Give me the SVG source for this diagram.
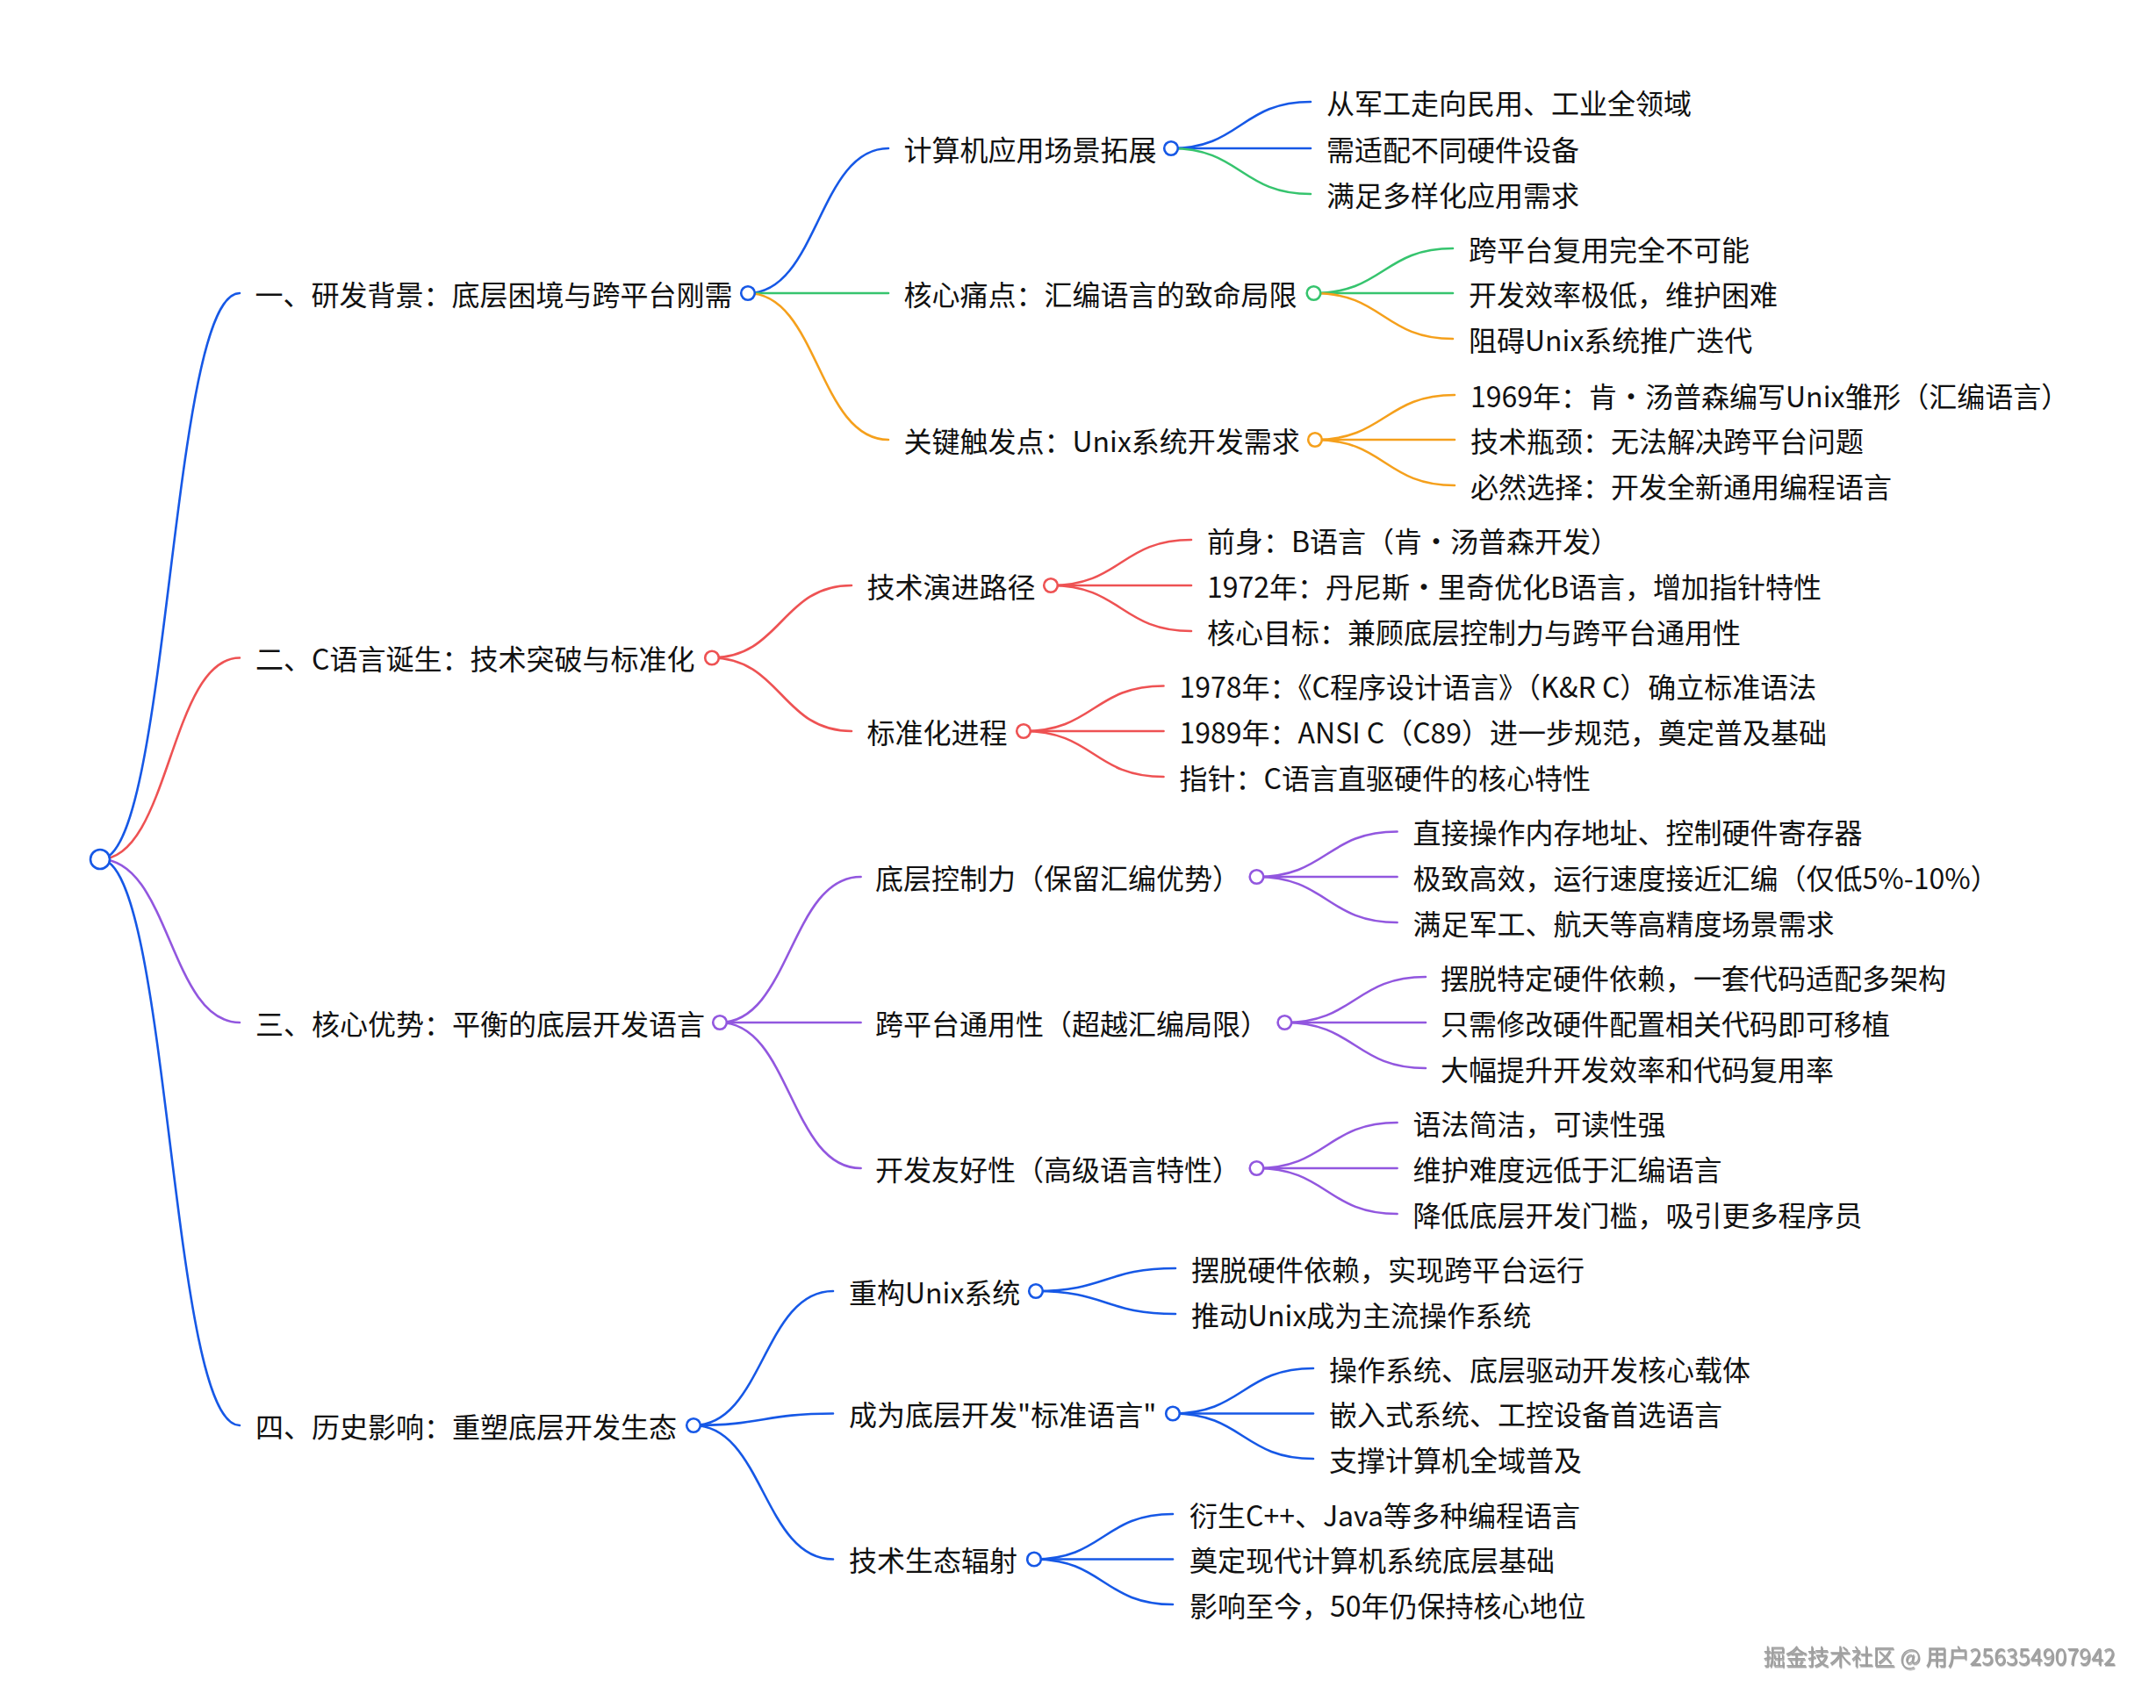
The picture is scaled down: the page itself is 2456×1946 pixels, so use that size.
<svg xmlns="http://www.w3.org/2000/svg" width="2456" height="1946" viewBox="0 0 2456 1946">
<defs>
<filter id="emb" x="-5%" y="-30%" width="110%" height="160%">
<feDropShadow dx="1" dy="1.5" stdDeviation="0.6" flood-color="#555" flood-opacity="0.6"/>
</filter>
</defs>
<style>
text{font-family:"Noto Sans CJK SC","Noto Sans",sans-serif;font-size:32px;fill:#111;dominant-baseline:central;transform:translateY(-1.5px)}
.l{fill:none;stroke-width:2.6;stroke-linecap:round}
.n{fill:#fff;stroke-width:2.6}
.b{stroke:#1658E6}
.g{stroke:#36C46E}
.o{stroke:#F5A01C}
.r{stroke:#EE5253}
.p{stroke:#9257DF}
.wm{font-size:25px;fill:#a0a0a0;dominant-baseline:central}
</style>
<rect width="2456" height="1946" fill="#fff"/>
<g id="connectors">
<path class="l b" d="M114 979C193.5 979 193.5 334 273 334"/>
<path class="l r" d="M114 979C193.5 979 193.5 749.5 273 749.5"/>
<path class="l p" d="M114 979C193.5 979 193.5 1165 273 1165"/>
<path class="l b" d="M114 979C193.5 979 193.5 1624 273 1624"/>

<path class="l b" d="M852 334C932 334 932 169 1012 169"/>
<path class="l g" d="M852 334C932 334 932 334 1012 334"/>
<path class="l o" d="M852 334C932 334 932 501 1012 501"/>

<path class="l b" d="M1334 169C1413.5 169 1413.5 116 1493 116"/>
<path class="l b" d="M1334 169C1413.5 169 1413.5 169 1493 169"/>
<path class="l g" d="M1334 169C1413.5 169 1413.5 221 1493 221"/>

<path class="l g" d="M1496.5 334C1575.8 334 1575.8 283 1655 283"/>
<path class="l g" d="M1496.5 334C1575.8 334 1575.8 334 1655 334"/>
<path class="l o" d="M1496.5 334C1575.8 334 1575.8 386 1655 386"/>

<path class="l o" d="M1498 501C1577.5 501 1577.5 450 1657 450"/>
<path class="l o" d="M1498 501C1577.5 501 1577.5 501 1657 501"/>
<path class="l o" d="M1498 501C1577.5 501 1577.5 553 1657 553"/>

<path class="l r" d="M810 749.5C890 749.5 890 667 970 667"/>
<path class="l r" d="M810 749.5C890 749.5 890 833 970 833"/>

<path class="l r" d="M1197 667C1277 667 1277 615 1357 615"/>
<path class="l r" d="M1197 667C1277 667 1277 667 1357 667"/>
<path class="l r" d="M1197 667C1277 667 1277 719 1357 719"/>

<path class="l r" d="M1166 833C1245.8 833 1245.8 781.5 1325.5 781.5"/>
<path class="l r" d="M1166 833C1245.8 833 1245.8 833 1325.5 833"/>
<path class="l r" d="M1166 833C1245.8 833 1245.8 885 1325.5 885"/>

<path class="l p" d="M820 1165C900.3 1165 900.3 999 980.6 999"/>
<path class="l p" d="M820 1165C900.3 1165 900.3 1165 980.6 1165"/>
<path class="l p" d="M820 1165C900.3 1165 900.3 1331 980.6 1331"/>

<path class="l p" d="M1431.5 999C1511.5 999 1511.5 947.5 1591.6 947.5"/>
<path class="l p" d="M1431.5 999C1511.5 999 1511.5 999 1591.6 999"/>
<path class="l p" d="M1431.5 999C1511.5 999 1511.5 1051 1591.6 1051"/>

<path class="l p" d="M1463.4 1165C1543.7 1165 1543.7 1113 1624 1113"/>
<path class="l p" d="M1463.4 1165C1543.7 1165 1543.7 1165 1624 1165"/>
<path class="l p" d="M1463.4 1165C1543.7 1165 1543.7 1217 1624 1217"/>

<path class="l p" d="M1431.5 1331C1511.5 1331 1511.5 1279 1591.6 1279"/>
<path class="l p" d="M1431.5 1331C1511.5 1331 1511.5 1331 1591.6 1331"/>
<path class="l p" d="M1431.5 1331C1511.5 1331 1511.5 1383 1591.6 1383"/>

<path class="l b" d="M790 1624C869.5 1624 869.5 1471 949 1471"/>
<path class="l b" d="M790 1624C869.5 1624 869.5 1610.5 949 1610.5"/>
<path class="l b" d="M790 1624C869.5 1624 869.5 1776.5 949 1776.5"/>

<path class="l b" d="M1180 1471C1259.5 1471 1259.5 1445 1339 1445"/>
<path class="l b" d="M1180 1471C1259.5 1471 1259.5 1497 1339 1497"/>

<path class="l b" d="M1336 1610.5C1416 1610.5 1416 1559 1496 1559"/>
<path class="l b" d="M1336 1610.5C1416 1610.5 1416 1610.5 1496 1610.5"/>
<path class="l b" d="M1336 1610.5C1416 1610.5 1416 1662 1496 1662"/>

<path class="l b" d="M1178 1776.5C1257 1776.5 1257 1725 1336 1725"/>
<path class="l b" d="M1178 1776.5C1257 1776.5 1257 1776.5 1336 1776.5"/>
<path class="l b" d="M1178 1776.5C1257 1776.5 1257 1828 1336 1828"/>
</g>

<g id="root"><circle class="n b" cx="114" cy="979" r="11"/></g>

<g id="n1"><text x="290.5" y="335">一、研发背景：底层困境与跨平台刚需</text><circle class="n b" cx="852" cy="334" r="7.8"/></g>
<g id="n1-1"><text x="1029.5" y="170">计算机应用场景拓展</text><circle class="n b" cx="1334" cy="169" r="7.8"/></g>
<g id="n1-1-1"><text x="1511" y="117">从军工走向民用、工业全领域</text></g>
<g id="n1-1-2"><text x="1511" y="170">需适配不同硬件设备</text></g>
<g id="n1-1-3"><text x="1511" y="222">满足多样化应用需求</text></g>
<g id="n1-2"><text x="1029.5" y="335">核心痛点：汇编语言的致命局限</text><circle class="n g" cx="1496.5" cy="334" r="7.8"/></g>
<g id="n1-2-1"><text x="1673" y="284">跨平台复用完全不可能</text></g>
<g id="n1-2-2"><text x="1673" y="335">开发效率极低，维护困难</text></g>
<g id="n1-2-3"><text x="1673" y="387">阻碍Unix系统推广迭代</text></g>
<g id="n1-3"><text x="1029.5" y="502">关键触发点：Unix系统开发需求</text><circle class="n o" cx="1498" cy="501" r="7.8"/></g>
<g id="n1-3-1"><text x="1675" y="451">1969年：肯·汤普森编写Unix雏形（汇编语言）</text></g>
<g id="n1-3-2"><text x="1675" y="502">技术瓶颈：无法解决跨平台问题</text></g>
<g id="n1-3-3"><text x="1675" y="554">必然选择：开发全新通用编程语言</text></g>

<g id="n2"><text x="291" y="750.5">二、C语言诞生：技术突破与标准化</text><circle class="n r" cx="811" cy="749.5" r="7.8"/></g>
<g id="n2-1"><text x="987.5" y="668">技术演进路径</text><circle class="n r" cx="1197" cy="667" r="7.8"/></g>
<g id="n2-1-1"><text x="1375" y="616">前身：B语言（肯·汤普森开发）</text></g>
<g id="n2-1-2"><text x="1375" y="668">1972年：丹尼斯·里奇优化B语言，增加指针特性</text></g>
<g id="n2-1-3"><text x="1375" y="720">核心目标：兼顾底层控制力与跨平台通用性</text></g>
<g id="n2-2"><text x="987.5" y="834">标准化进程</text><circle class="n r" cx="1166" cy="833" r="7.8"/></g>
<g id="n2-2-1"><text x="1343.5" y="782.5">1978年：《C程序设计语言》（K&amp;R C）确立标准语法</text></g>
<g id="n2-2-2"><text x="1343.5" y="834">1989年：ANSI C（C89）进一步规范，奠定普及基础</text></g>
<g id="n2-2-3"><text x="1343.5" y="886">指针：C语言直驱硬件的核心特性</text></g>

<g id="n3"><text x="291" y="1166">三、核心优势：平衡的底层开发语言</text><circle class="n p" cx="820" cy="1165" r="7.8"/></g>
<g id="n3-1"><text x="997" y="1000">底层控制力（保留汇编优势）</text><circle class="n p" cx="1431.5" cy="999" r="7.8"/></g>
<g id="n3-1-1"><text x="1609.5" y="948.5">直接操作内存地址、控制硬件寄存器</text></g>
<g id="n3-1-2"><text x="1609.5" y="1000">极致高效，运行速度接近汇编（仅低5%-10%）</text></g>
<g id="n3-1-3"><text x="1609.5" y="1052">满足军工、航天等高精度场景需求</text></g>
<g id="n3-2"><text x="997" y="1166">跨平台通用性（超越汇编局限）</text><circle class="n p" cx="1463.4" cy="1165" r="7.8"/></g>
<g id="n3-2-1"><text x="1641" y="1114">摆脱特定硬件依赖，一套代码适配多架构</text></g>
<g id="n3-2-2"><text x="1641" y="1166">只需修改硬件配置相关代码即可移植</text></g>
<g id="n3-2-3"><text x="1641" y="1218">大幅提升开发效率和代码复用率</text></g>
<g id="n3-3"><text x="997" y="1332">开发友好性（高级语言特性）</text><circle class="n p" cx="1431.5" cy="1331" r="7.8"/></g>
<g id="n3-3-1"><text x="1609.5" y="1280">语法简洁，可读性强</text></g>
<g id="n3-3-2"><text x="1609.5" y="1332">维护难度远低于汇编语言</text></g>
<g id="n3-3-3"><text x="1609.5" y="1384">降低底层开发门槛，吸引更多程序员</text></g>

<g id="n4"><text x="291" y="1625">四、历史影响：重塑底层开发生态</text><circle class="n b" cx="790" cy="1624" r="7.8"/></g>
<g id="n4-1"><text x="967" y="1472">重构Unix系统</text><circle class="n b" cx="1180" cy="1471" r="7.8"/></g>
<g id="n4-1-1"><text x="1357" y="1446">摆脱硬件依赖，实现跨平台运行</text></g>
<g id="n4-1-2"><text x="1357" y="1498">推动Unix成为主流操作系统</text></g>
<g id="n4-2"><text x="967" y="1611.5">成为底层开发"标准语言"</text><circle class="n b" cx="1336" cy="1610.5" r="7.8"/></g>
<g id="n4-2-1"><text x="1514" y="1560">操作系统、底层驱动开发核心载体</text></g>
<g id="n4-2-2"><text x="1514" y="1611.5">嵌入式系统、工控设备首选语言</text></g>
<g id="n4-2-3"><text x="1514" y="1663">支撑计算机全域普及</text></g>
<g id="n4-3"><text x="967" y="1777.5">技术生态辐射</text><circle class="n b" cx="1178" cy="1776.5" r="7.8"/></g>
<g id="n4-3-1"><text x="1355" y="1726">衍生C++、Java等多种编程语言</text></g>
<g id="n4-3-2"><text x="1355" y="1777.5">奠定现代计算机系统底层基础</text></g>
<g id="n4-3-3"><text x="1355" y="1829">影响至今，50年仍保持核心地位</text></g>

<g id="watermark"><text class="wm" x="2410" y="1887" text-anchor="end" filter="url(#emb)">掘金技术社区 @ 用户256354907942</text></g>
</svg>
